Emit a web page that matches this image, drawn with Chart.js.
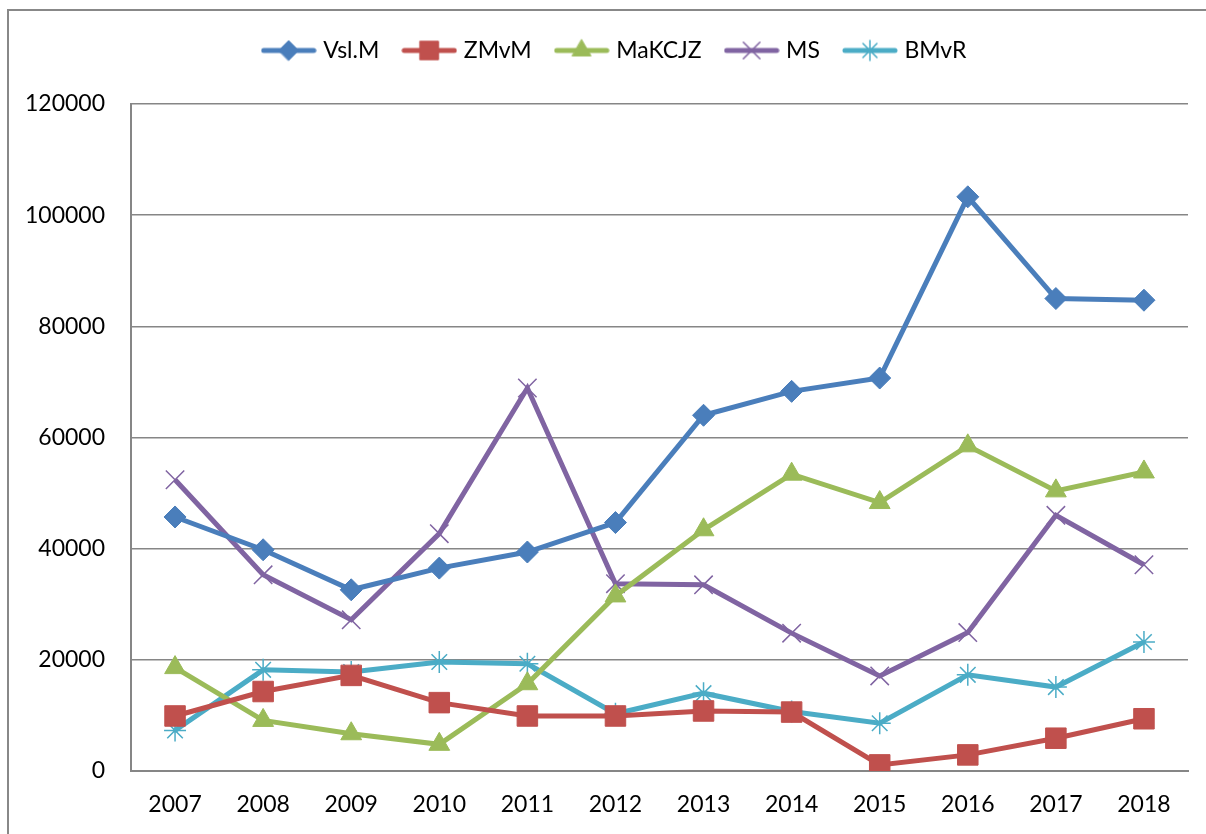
<!DOCTYPE html>
<html>
<head>
<meta charset="utf-8">
<script src="https://cdn.jsdelivr.net/npm/chart.js@4/dist/chart.umd.min.js"></script>
<style>
html,body{margin:0;padding:0;background:#fff;}
#wrap{width:1206px;height:834px;position:relative;}
</style>
</head>
<body>
<div id="wrap"><canvas id="c" width="1206" height="834"></canvas></div>
<script>
const years = ['2007','2008','2009','2010','2011','2012','2013','2014','2015','2016','2017','2018'];
const vslM   = [45700, 39800, 32600, 36500, 39400, 44700, 64000, 68300, 70700, 103300, 85000, 84700];
const zmvm   = [9900, 14300, 17200, 12300, 9900, 9900, 10800, 10600, 1100, 2900, 5900, 9400];
const makcjz = [18600, 9100, 6700, 4800, 15700, 31500, 43400, 53400, 48300, 58500, 50400, 53800];
const ms     = [52400, 35300, 27200, 42700, 68900, 33700, 33500, 24800, 17100, 24900, 46000, 37100];
const bmvr   = [7300, 18200, 17800, 19600, 19300, 10300, 14000, 10700, 8600, 17300, 15100, 23200];
const yTicks = [0, 20000, 40000, 60000, 80000, 100000, 120000];

const FONT = 'Lato, "Open Sans", sans-serif';

const series = [
  {label:'Vsl.M', data:vslM, color:'#4A7EBB', style:'rectRot', r:11, bw:1},
  {label:'ZMvM', data:zmvm, color:'#C0504D', style:'rect', r:14.5, bw:1},
  {label:'MaKCJZ', data:makcjz, color:'#9BBB59', style:'triangle', r:12, bw:1},
  {label:'MS', data:ms, color:'#8064A2', style:'crossRot', r:13, bw:1.5},
  {label:'BMvR', data:bmvr, color:'#4BACC6', style:'star', r:11, bw:1.5}
];

function legendImage(s){
  const cv = document.createElement('canvas');
  cv.width = 56; cv.height = 26;
  const ctx = cv.getContext('2d');
  ctx.strokeStyle = s.color; ctx.lineWidth = 5; ctx.lineCap='round';
  ctx.beginPath(); ctx.moveTo(3,13); ctx.lineTo(53,13); ctx.stroke();
  ctx.fillStyle = s.color; ctx.strokeStyle = s.color; ctx.lineWidth = s.bw;
  Chart.helpers.drawPoint(ctx, {pointStyle:s.style, radius:s.r*0.9, borderWidth:s.bw, rotation:0}, 28, 13);
  return cv;
}

const framePlugin = {
  id:'frame',
  afterInit(chart){
    const lg = chart.legend;
    const origFit = lg.fit;
    lg.fit = function(){ origFit.call(this); this.height = 92; };
    const origDraw = lg.draw;
    lg.draw = function(){
      const ctx = this.ctx; ctx.save(); ctx.translate(22,0); origDraw.call(this); ctx.restore();
    };
  },
  beforeDraw(chart){
    const ctx = chart.ctx;
    ctx.save();
    ctx.fillStyle='#fff'; ctx.fillRect(0,0,chart.width,chart.height);
    ctx.strokeStyle='#888888'; ctx.lineWidth=2;
    ctx.beginPath(); ctx.moveTo(8,840); ctx.lineTo(8,10); ctx.lineTo(1210,10); ctx.stroke();
    ctx.restore();
  }
};

new Chart(document.getElementById('c'), {
  type:'line',
  data:{
    labels: years,
    datasets: series.map(s=>({
      label:s.label, data:s.data,
      borderColor:s.color, backgroundColor:s.color,
      borderWidth:5, pointStyle:s.style, pointRadius:s.r,
      pointBorderWidth:s.bw, pointBackgroundColor:s.color, pointBorderColor:s.color,
      tension:0, fill:false
    }))
  },
  options:{
    responsive:false, animation:false, devicePixelRatio:1,
    layout:{padding:{left:0,right:18,top:12,bottom:0}},
    plugins:{
      tooltip:{enabled:false},
      legend:{
        display:true, position:'top',
        labels:{
          usePointStyle:true, pointStyleWidth:46, padding:27,
          color:'#000', font:{family:FONT,size:23},
          generateLabels(chart){
            return series.map((s,i)=>({
              text:s.label, pointStyle:legendImage(s), fillStyle:s.color,
              strokeStyle:s.color, lineWidth:0, datasetIndex:i, hidden:false, fontColor:'#000'
            }));
          }
        }
      }
    },
    scales:{
      x:{
        offset:true,
        grid:{display:false, drawTicks:false},
        border:{display:true, color:'#868686', width:2},
        ticks:{color:'#000', font:{family:FONT,size:23}, padding:20, maxRotation:0},
        afterFit(scale){ scale.height = 63; }
      },
      y:{
        min:0, max:120000,
        afterBuildTicks(scale){ scale.ticks = yTicks.map(v=>({value:v})); },
        grid:{color:'#868686', lineWidth:1.5, drawTicks:false},
        border:{display:true, color:'#868686', width:2},
        ticks:{color:'#000', font:{family:FONT,size:23}, padding:26, callback:(v)=>String(v)},
        afterFit(scale){ scale.width = 131; }
      }
    }
  },
  plugins:[framePlugin]
});
</script>
</body>
</html>
